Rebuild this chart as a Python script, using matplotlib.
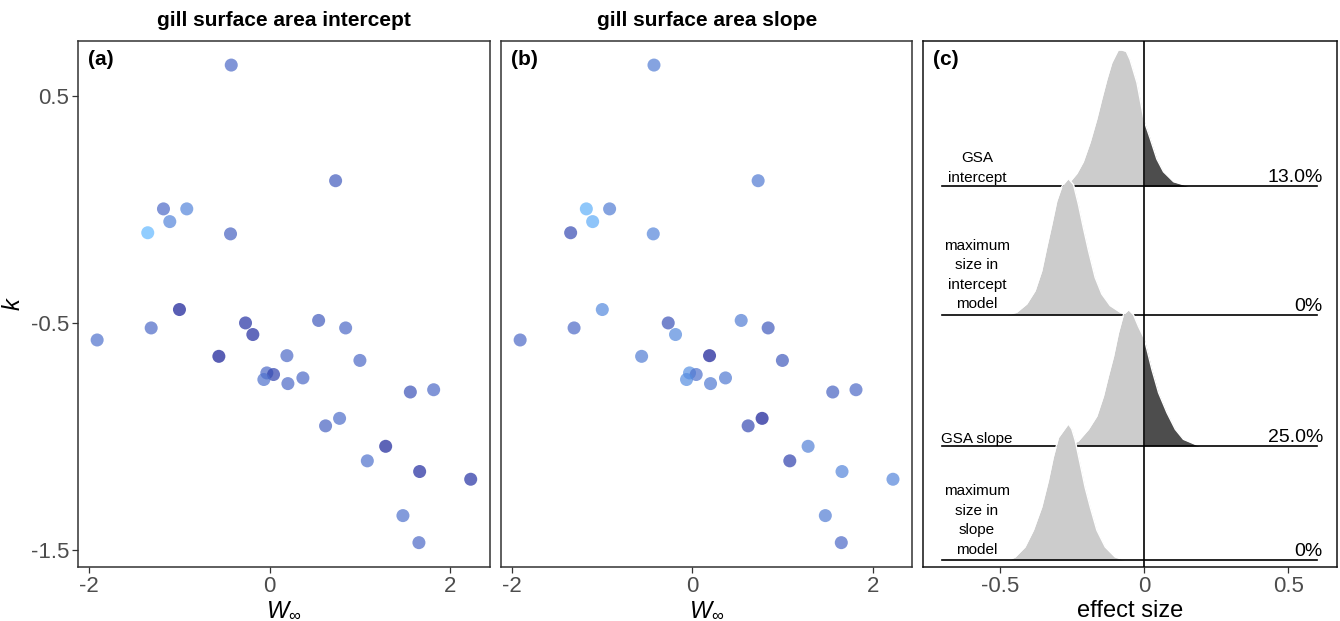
import matplotlib.pyplot as plt
import numpy as np
from matplotlib.colors import LinearSegmentedColormap

plt.rcParams['font.family'] = ['Liberation Sans', 'DejaVu Sans']
plt.rcParams['mathtext.fontset'] = 'custom'
plt.rcParams['mathtext.it'] = 'Liberation Sans:italic'
plt.rcParams['mathtext.rm'] = 'Liberation Sans'
plt.rcParams['mathtext.fallback'] = 'stixsans'

# species points, same positions in (a) and (b)
w_inf = [-0.424, 0.731, -1.174, -0.916, -1.104, -1.348, -0.432, -0.997, -1.31, -1.908,
         -0.266, -0.185, -0.561, 0.192, -0.03, 0.044, -0.063, 0.203, 0.369, 0.543,
         0.842, 1.0, 1.558, 1.816, 0.775, 0.62, 1.285, 1.082, 1.661, 2.226,
         1.476, 1.653]
k_val = [0.635, 0.126, 0.002, 0.002, -0.054, -0.103, -0.108, -0.441, -0.522, -0.575,
         -0.5, -0.551, -0.647, -0.644, -0.72, -0.727, -0.749, -0.767, -0.742, -0.489,
         -0.522, -0.665, -0.804, -0.794, -0.92, -0.953, -1.043, -1.107, -1.154, -1.188,
         -1.348, -1.467]
# colour value per point (0 = light, 3 = dark)
gsa_int = [2.0, 2.2, 2.0, 1.3, 1.3, 0.0, 2.1, 3.0, 2.0, 1.8,
           2.7, 2.8, 3.0, 2.0, 2.0, 2.5, 1.8, 2.0, 2.0, 2.2,
           2.0, 2.0, 2.3, 2.0, 1.9, 2.1, 2.9, 1.8, 2.8, 2.7,
           1.8, 2.0]
gsa_slope = [1.5, 1.6, 0.2, 1.5, 0.3, 2.4, 1.3, 1.2, 2.0, 2.0,
             2.3, 1.2, 1.5, 3.0, 1.0, 1.8, 1.1, 1.6, 1.6, 1.5,
             2.2, 2.2, 2.1, 2.0, 3.0, 2.4, 1.4, 2.5, 1.3, 1.3,
             1.5, 2.0]

# posterior densities for panel (c) (peak scaled to 1)
row_labels = ['GSA\nintercept', 'maximum\nsize in\nintercept\nmodel',
              'GSA slope', 'maximum\nsize in\nslope\nmodel']
row_pct = ['13.0%', '0%', '25.0%', '0%']
dens_x = [
    [-0.291, -0.257, -0.233, -0.211, -0.187, -0.164, -0.147, -0.129, -0.112, -0.09,
     -0.077, -0.062, -0.049, -0.025, -0.008, 0.0, 0.021, 0.044, 0.067, 0.102, 0.148, 0.16],
    [-0.476, -0.442, -0.407, -0.378, -0.355, -0.338, -0.32, -0.303, -0.285, -0.263,
     -0.245, -0.228, -0.211, -0.193, -0.17, -0.147, -0.118, -0.083, -0.06],
    [-0.264, -0.228, -0.193, -0.164, -0.141, -0.124, -0.106, -0.089, -0.072, -0.054,
     -0.037, -0.02, 0.0, 0.027, 0.05, 0.079, 0.108, 0.136, 0.183, 0.194],
    [-0.471, -0.447, -0.413, -0.384, -0.355, -0.332, -0.315, -0.297, -0.263, -0.251,
     -0.239, -0.222, -0.205, -0.187, -0.164, -0.135, -0.101, -0.066],
]
dens_h = [
    [0.0, 0.034, 0.095, 0.18, 0.325, 0.495, 0.64, 0.786, 0.907, 1.0,
     1.0, 0.99, 0.93, 0.76, 0.57, 0.48, 0.35, 0.2, 0.107, 0.034, 0.005, 0.0],
    [0.0, 0.019, 0.08, 0.177, 0.323, 0.493, 0.664, 0.834, 0.944, 1.0,
     0.956, 0.81, 0.64, 0.47, 0.274, 0.153, 0.068, 0.019, 0.0],
    [0.0, 0.037, 0.122, 0.219, 0.366, 0.512, 0.658, 0.83, 0.963, 1.0,
     0.963, 0.878, 0.79, 0.56, 0.39, 0.244, 0.122, 0.049, 0.007, 0.0],
    [0.0, 0.024, 0.097, 0.22, 0.39, 0.585, 0.756, 0.9, 1.0, 0.963,
     0.878, 0.707, 0.536, 0.39, 0.22, 0.097, 0.024, 0.0],
]
row_base = [2.93, 1.94, 0.93, 0.05]

tick_grey = '#4d4d4d'
cmap = LinearSegmentedColormap.from_list(
    'gsa', [(0, '#62b8ff'), (0.67, '#4c69c6'), (1, '#131a94')])

fig = plt.figure(figsize=(13.4, 6.21), dpi=100)
ax_a = fig.add_axes([0.0582, 0.0874, 0.3075, 0.8466])
ax_b = fig.add_axes([0.3739, 0.0874, 0.3069, 0.8466])
ax_c = fig.add_axes([0.6888, 0.0874, 0.3090, 0.8466])


def style_axis(ax):
    for s in ax.spines.values():
        s.set_color('#333333')
        s.set_linewidth(1.1)
    ax.tick_params(length=4, width=0.9, color='#333333', labelcolor=tick_grey,
                   labelsize=16, pad=2.5)


for ax, cvals, label, title in [(ax_a, gsa_int, '(a)', 'gill surface area intercept'),
                                (ax_b, gsa_slope, '(b)', 'gill surface area slope')]:
    ax.scatter(w_inf, k_val, c=np.array(cvals) / 3, cmap=cmap, vmin=0, vmax=1,
               s=88, alpha=0.7, edgecolors='none')
    ax.set_xlim(-2.12, 2.44)
    ax.set_ylim(-1.573, 0.741)
    ax.set_xticks([-2, 0, 2])
    ax.set_xticklabels(['-2', '0', '2'])
    ax.set_yticks([0.5, -0.5, -1.5])
    ax.set_yticklabels(['0.5', '-0.5', '-1.5'])
    style_axis(ax)
    ax.set_xlabel(r'$W_\infty$', fontsize=17, labelpad=2)
    ax.set_title(title, fontsize=15, fontweight='bold', pad=11)
    ax.text(0.024, 0.982, label, transform=ax.transAxes, fontsize=15,
            fontweight='bold', va='top', ha='left')

ax_a.set_ylabel('k', fontsize=17, fontstyle='italic', labelpad=4)
ax_b.set_yticks([])

# ridgelines, top row first so lower rows sit on top
scale = 1.05
for i in range(len(row_labels)):
    x = np.array(dens_x[i])
    top = row_base[i] + scale * np.array(dens_h[i])
    z = 2 + i
    ax_c.fill_between(x, row_base[i], top, where=x <= 0, color='#cccccc',
                      linewidth=0, zorder=z)
    ax_c.fill_between(x, row_base[i], top, where=x >= 0, color='#4d4d4d',
                      linewidth=0, zorder=z)
    ax_c.plot(x, top, color='white', lw=1, zorder=z)
    ax_c.plot([-0.7, 0.6], [row_base[i], row_base[i]], color='black', lw=1.2, zorder=z)
    n = row_labels[i].count('\n') + 1
    ax_c.text(-0.58, row_base[i] + 0.057 + (n - 1) / 2 * 0.166, row_labels[i],
              ha='center', va='center', fontsize=11, linespacing=1.5, zorder=10)
    ax_c.text(0.62, row_base[i] + 0.03, row_pct[i], ha='right', va='baseline',
              fontsize=14, zorder=10)

ax_c.axvline(0, color='black', lw=1.2, zorder=20)
ax_c.set_xlim(-0.767, 0.669)
ax_c.set_ylim(0, 4.05)
ax_c.set_xticks([-0.5, 0, 0.5])
ax_c.set_xticklabels(['-0.5', '0', '0.5'])
ax_c.set_yticks([])
style_axis(ax_c)
for s in ax_c.spines.values():
    s.set_color('#111111')
ax_c.set_xlabel('effect size', fontsize=17, labelpad=2)
ax_c.text(0.024, 0.982, '(c)', transform=ax_c.transAxes, fontsize=15,
          fontweight='bold', va='top', ha='left')

fig.savefig('out.png', dpi=100)
